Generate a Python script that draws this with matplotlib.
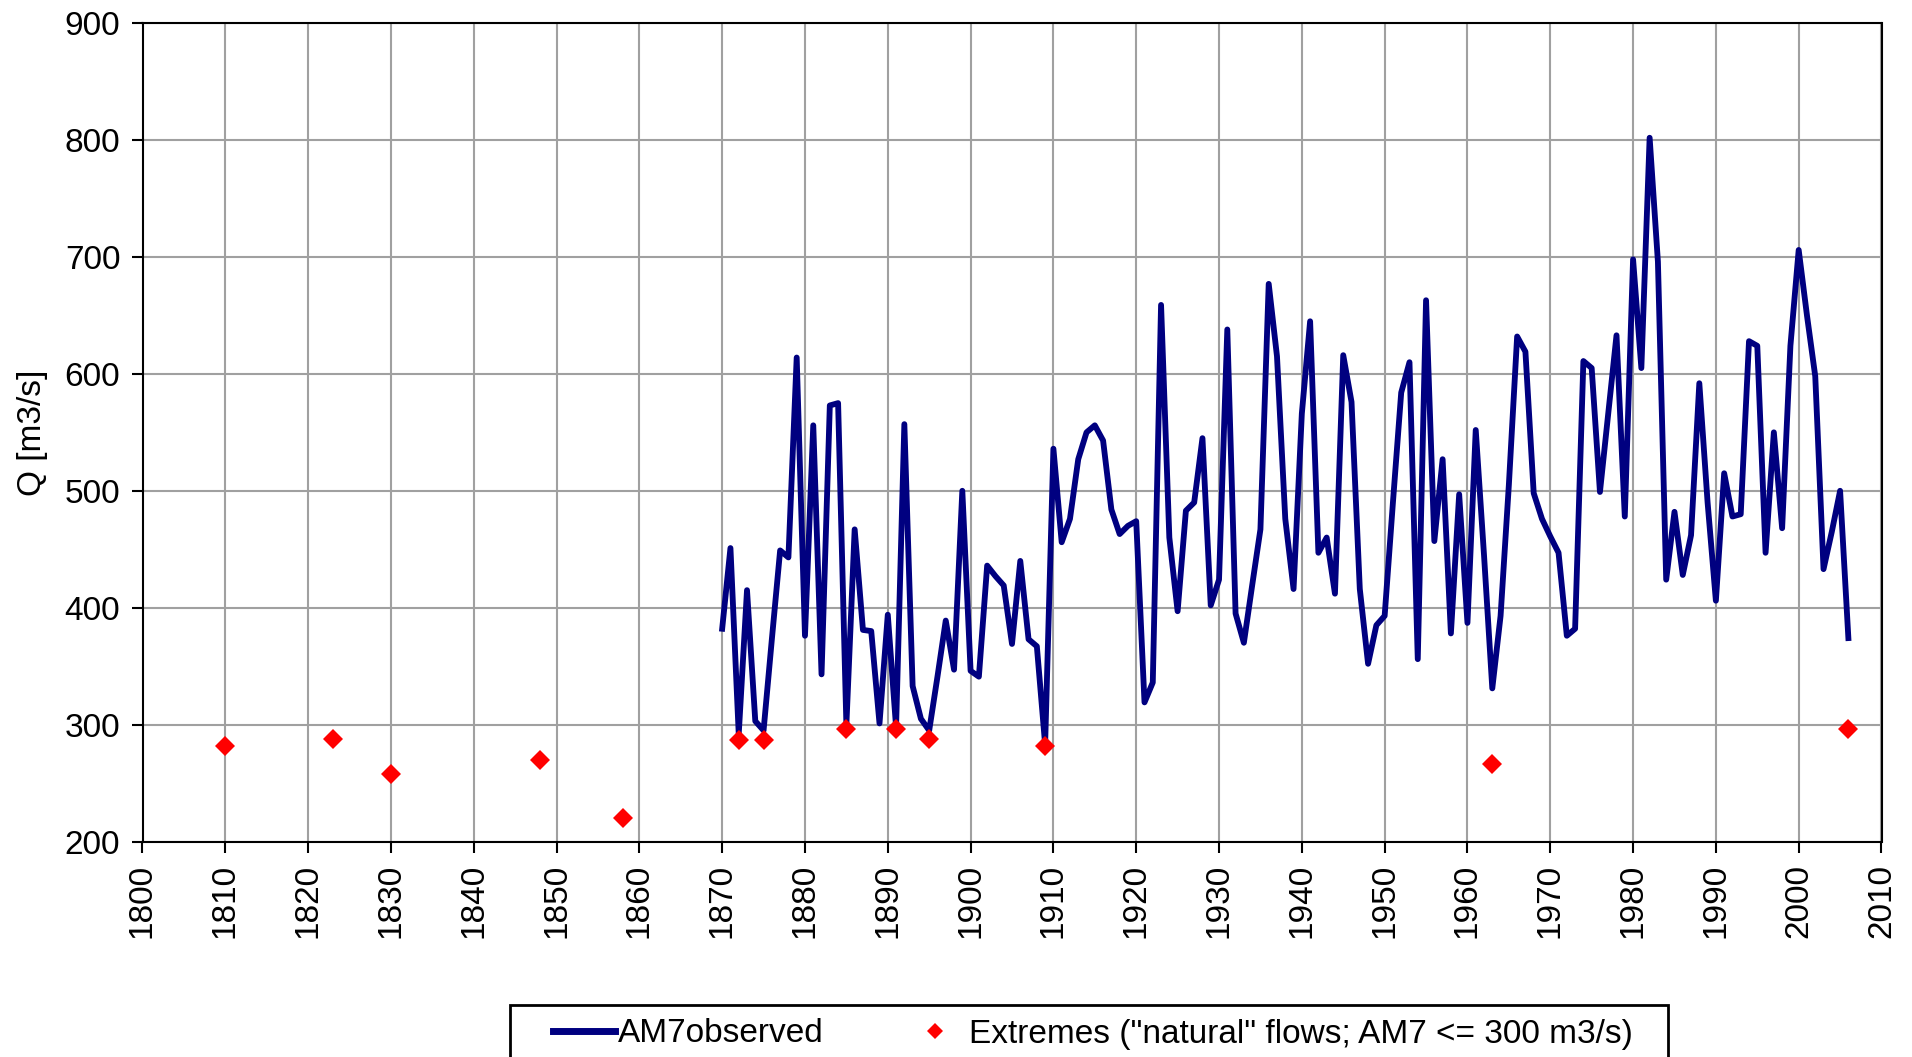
import numpy as np
import matplotlib
matplotlib.use("Agg")
import matplotlib.pyplot as plt
from matplotlib.patches import Rectangle
from matplotlib.lines import Line2D

plt.rcParams["font.family"] = ["Liberation Sans", "DejaVu Sans"]

# Observed annual 7-day minimum flow (AM7), 1870-2006
obs_years = list(range(1870, 2007))
obs_q = [
    382, 451, 292, 415, 303, 295, 373, 449, 443, 614,
    376, 556, 343, 573, 575, 300, 467, 381, 380, 301,
    394, 298, 557, 333, 305, 295, 341, 389, 347, 500,
    346, 341, 436, 427, 419, 369, 440, 373, 367, 283,
    536, 456, 476, 527, 550, 556, 543, 484, 463, 470,
    474, 319, 336, 659, 460, 397, 483, 490, 545, 402,
    424, 638, 395, 370, 419, 467, 677, 615, 476, 416,
    566, 645, 447, 460, 412, 616, 576, 416, 352, 385,
    393, 490, 584, 610, 356, 663, 457, 527, 378, 497,
    387, 552, 445, 331, 393, 505, 632, 619, 498, 476,
    461, 447, 376, 382, 611, 605, 499, 566, 633, 478,
    698, 605, 802, 696, 424, 482, 428, 462, 592, 490,
    406, 515, 478, 480, 628, 624, 447, 550, 468, 624,
    706, 650, 598, 433, 465, 500, 374,
]

# Historical extremes ("natural" flows, AM7 <= 300 m3/s)
ext_years = [1810, 1823, 1830, 1848, 1858, 1872, 1875, 1885, 1891, 1895, 1909, 1963, 2006]
ext_q = [282, 288, 258, 270, 220, 287, 287, 296, 296, 288, 282, 266, 296]

x_ticks = list(range(1800, 2011, 10))
y_ticks = list(range(200, 901, 100))

W, H = 1912, 1057
fig = plt.figure(figsize=(W / 100, H / 100), dpi=100)
ax = fig.add_axes([142.5 / W, 1 - 841.5 / H, (1881.5 - 142.5) / W, (841.5 - 23.2) / H])

ax.plot(obs_years, obs_q, color="#000080", linewidth=4.2, solid_joinstyle="round",
        label="AM7observed", zorder=3)
ax.plot(ext_years, ext_q, linestyle="none", marker="D", markersize=10,
        color="#ff0000", markeredgewidth=0, label='Extremes ("natural" flows; AM7 <= 300 m3/s)',
        zorder=4)

ax.set_xlim(1800, 2010)
ax.set_ylim(200, 900)
ax.set_xticks(x_ticks)
ax.set_yticks(y_ticks)
ax.set_xticklabels([str(t) for t in x_ticks], rotation=90)
ax.grid(True, color="#a0a0a0", linewidth=1.5)
ax.set_axisbelow(True)
for s in ax.spines.values():
    s.set_color("black")
    s.set_linewidth(1.5)
ax.tick_params(axis="both", direction="out", length=8, width=1.5, labelsize=24,
               colors="black", pad=8)
ax.set_ylabel("Q [m3/s]", fontsize=24, labelpad=12)

# Legend frame below the plot
fig.patches.append(Rectangle((510 / W, 1 - 1075 / H), 1158 / W, 70 / H,
                             transform=fig.transFigure, facecolor="white",
                             edgecolor="black", linewidth=2, zorder=1))
handles = [
    Line2D([], [], color="#000080", linewidth=5),
    Line2D([], [], linestyle="none", marker="D", markersize=8, color="#ff0000",
           markeredgewidth=0),
]
labels = ["AM7observed", 'Extremes ("natural" flows; AM7 <= 300 m3/s)']
fig.legend(handles, labels, loc="center left", bbox_to_anchor=(553 / W, 1 - 1034 / H),
           ncol=2, frameon=False, fontsize=24, borderpad=0, borderaxespad=0,
           handlelength=1.85, handletextpad=0.1, columnspacing=2.4)

fig.savefig("out.png", dpi=100)
